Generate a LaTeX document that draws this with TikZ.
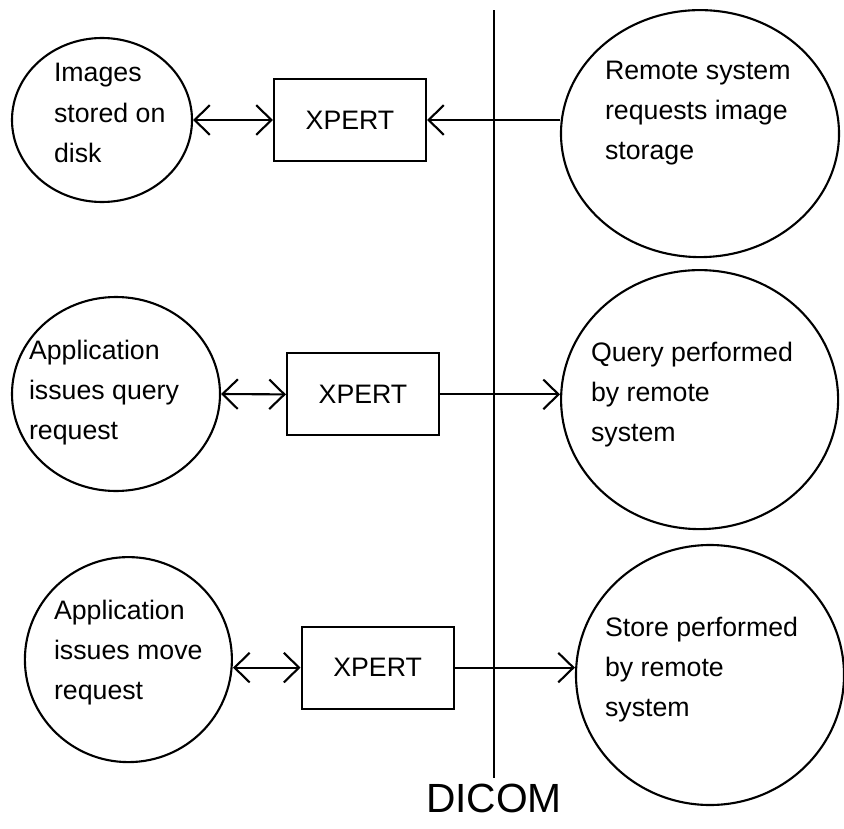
\documentclass[tikz,border=0pt]{standalone}
\usepackage{fontspec}
\setmainfont{Liberation Sans}
\usetikzlibrary{shapes.geometric,arrows.meta}

\begin{document}
\begin{tikzpicture}[
    line width=1.5pt,
    >={Straight Barb[length=0.38cm,width=0.74cm]},
    bubble/.style={
      draw,
      ellipse,
      inner sep=0pt
    },
    module/.style={
      draw,
      rectangle,
      minimum width=3.8cm,
      minimum height=2.05cm,
      font=\fontsize{19}{23}\selectfont
    },
    bubbletext/.style={
      anchor=west,
      align=left,
      inner sep=0pt,
      font=\fontsize{19}{28.5}\selectfont
    }
  ]

    \useasboundingbox (0,0) rectangle (21.1,-20.725);

    % Lado local
    \node[bubble, minimum width=4.5cm, minimum height=4.1cm] (disk) at (2.55,-3.0) {};
    \node[bubbletext] (disktext) at (1.325,-2.825)
      {Images\\stored on\\disk};

    \node[bubble, minimum width=5.2cm, minimum height=4.85cm] (queryapp) at (2.9,-9.85) {};
    \node[bubbletext] (queryapptext) at (0.7,-9.825)
      {Application\\issues query\\request};

    \node[bubble, minimum width=5.175cm, minimum height=5.125cm] (moveapp) at (3.21,-16.49) {};
    \node[bubbletext] (moveapptext) at (1.325,-16.325)
      {Application\\issues move\\request};

    % XPERT
    \node[module] (xpertA) at (8.75,-3.0) {XPERT};
    \node[module] (xpertB) at (9.075,-9.86) {XPERT};
    \node[module] (xpertC) at (9.44,-16.69) {XPERT};

    % Lado remoto
    \node[bubble, minimum width=6.95cm, minimum height=6.175cm] (storereq) at (17.5,-3.34) {};
    \node[bubbletext] (storereqtext) at (15.1,-2.825)
      {Remote system\\requests image\\storage};

    \node[bubble, minimum width=6.925cm, minimum height=6.475cm] (remotequery) at (17.49,-9.99) {};
    \node[bubbletext] (remotequerytext) at (14.75,-9.875)
      {Query performed\\by remote\\system};

    \node[bubble, minimum width=6.7cm, minimum height=6.5cm] (remotestore) at (17.75,-16.875) {};
    \node[bubbletext] (remotestoretext) at (15.1,-16.75)
      {Store performed\\by remote\\system};

    % Frontera DICOM
    \node[font=\fontsize{29}{34}\selectfont, inner sep=3.5pt] (dicom) at (12.35,-19.95) {DICOM};
    \coordinate (bordertop) at (12.35,-0.25);
    \draw (bordertop) -- (dicom.north);

    % Flujos
    \draw[<->] (disk.east) -- (xpertA.west);
    \draw[->] (storereq.west |- xpertA.east) -- (xpertA.east);

    \draw[<->] (queryapp.east) -- (xpertB.west);
    \draw[->] (xpertB.east) -- (remotequery.west |- xpertB.east);

    \draw[<->] (moveapp.east |- xpertC.west) -- (xpertC.west);
    \draw[->] (xpertC.east) -- (remotestore.west |- xpertC.east);

  \end{tikzpicture}
\end{document}
